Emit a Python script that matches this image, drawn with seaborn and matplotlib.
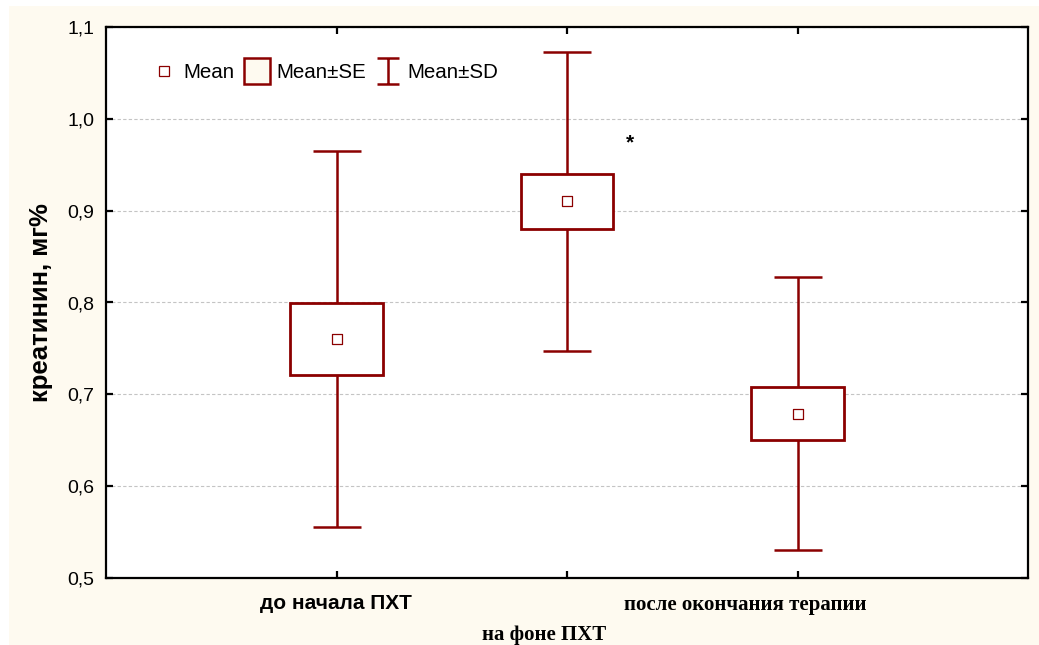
import numpy as np
import pandas as pd
import matplotlib
matplotlib.use("Agg")
import matplotlib.pyplot as plt
import matplotlib.transforms as mtransforms
from matplotlib.lines import Line2D
from matplotlib.path import Path
from matplotlib.patches import Rectangle
import seaborn as sns

# creatinine levels by treatment stage
groups = ["до начала ПХТ", "на фоне ПХТ", "после окончания терапии"]
means = [0.760, 0.910, 0.679]
se = [0.039, 0.030, 0.029]
sd = [0.205, 0.163, 0.149]
y_ticks = [0.5, 0.6, 0.7, 0.8, 0.9, 1.0, 1.1]
y_tick_labels = ["0,5", "0,6", "0,7", "0,8", "0,9", "1,0", "1,1"]

df = pd.DataFrame({"group": groups, "mean": means, "se": se, "sd": sd})
df["pos"] = np.arange(1, len(groups) + 1)

sns.set_theme(style="white")
plt.rcParams["font.family"] = ["Liberation Sans", "DejaVu Sans"]

RED = "#8B0000"
CREAM = "#FEFAF0"

fig = plt.figure(figsize=(10.39, 6.45), dpi=100)
fig.patch.set_facecolor("white")
fig.patches.append(Rectangle((9 / 1039, 0), 1, (645 - 6) / 645,
                             transform=fig.transFigure, facecolor=CREAM,
                             edgecolor="none", zorder=-10))
ax = fig.add_axes([106 / 1039, 1 - 578 / 645, (1028 - 106) / 1039, (578 - 27) / 645])
ax.set_facecolor("white")

# SD whiskers
ax.errorbar(df["pos"], df["mean"], yerr=df["sd"], fmt="none", ecolor=RED,
            elinewidth=1.8, capsize=17, capthick=1.8, zorder=2)
# SE boxes
ax.bar(df["pos"], 2 * df["se"], bottom=df["mean"] - df["se"], width=0.4,
       facecolor="white", edgecolor=RED, linewidth=2.0, zorder=3)
# means
sns.scatterplot(data=df, x="pos", y="mean", marker="s", s=50, color="white",
                edgecolor=RED, linewidth=0.9, ax=ax, zorder=4, legend=False)

ax.text(2.272, 0.974, "*", ha="center", va="center", fontsize=15,
        fontweight="bold", color="black")

ax.set_xlim(0, 4)
ax.set_ylim(0.5, 1.1)
ax.set_yticks(y_ticks)
ax.set_yticklabels(y_tick_labels, fontsize=14, color="black")
ax.set_xticks(df["pos"])
ax.set_xticklabels([])
ax.set_xlabel("")
ax.set_ylabel("креатинин, мг%", fontsize=18.5, fontweight="bold", labelpad=10,
              color="black")

# staggered category labels below the axis
label_fonts = [["Liberation Sans", "DejaVu Sans"],
               ["Liberation Serif", "DejaVu Serif"],
               ["Liberation Serif", "DejaVu Serif"]]
label_shift_px = [(-1, -31), (-23, -62), (-52, -32)]
base = mtransforms.blended_transform_factory(ax.transData, ax.transAxes)
for pos, name, fam, (dx, dy) in zip(df["pos"], df["group"], label_fonts, label_shift_px):
    tr = base + mtransforms.ScaledTranslation(dx / 100, dy / 100, fig.dpi_scale_trans)
    ax.text(pos, 0, name, transform=tr, ha="center", va="baseline",
            fontsize=15, fontweight="bold", family=fam, color="black")

ax.yaxis.grid(True, linestyle=(0, (3, 2)), color="#c4c4c4", linewidth=0.8)
ax.xaxis.grid(False)
for s in ax.spines.values():
    s.set_color("black")
    s.set_linewidth(1.6)
ax.tick_params(axis="both", direction="in", length=5, width=1.6, colors="black",
               top=True, right=True, bottom=True, left=True)
ax.tick_params(axis="y", labelcolor="black", pad=8.5)

# legend
sd_marker = Path([(-0.8, -1), (0.8, -1), (0, -1), (0, 1), (-0.8, 1), (0.8, 1)],
                 [Path.MOVETO, Path.LINETO, Path.MOVETO, Path.LINETO, Path.MOVETO, Path.LINETO])
handles = [
    Line2D([], [], linestyle="none", marker="s", markersize=6.5,
           markerfacecolor="white", markeredgecolor=RED, markeredgewidth=0.9),
    Line2D([], [], linestyle="none", marker="s", markersize=19,
           markerfacecolor=CREAM, markeredgecolor=RED, markeredgewidth=1.8),
    Line2D([], [], linestyle="none", marker=sd_marker, markersize=19,
           markerfacecolor="none", markeredgecolor=RED, markeredgewidth=1.8),
]
leg = ax.legend(handles, ["Mean", "Mean±SE", "Mean±SD"], loc="center left",
                bbox_to_anchor=((151 - 106) / 922, 1 - (73 - 27) / 551), ncol=3,
                frameon=False, fontsize=14.8, borderpad=0, borderaxespad=0,
                handlelength=1.25, handletextpad=0.33, columnspacing=0.45)
for t in leg.get_texts():
    t.set_color("black")

fig.savefig("out.png", dpi=100)
